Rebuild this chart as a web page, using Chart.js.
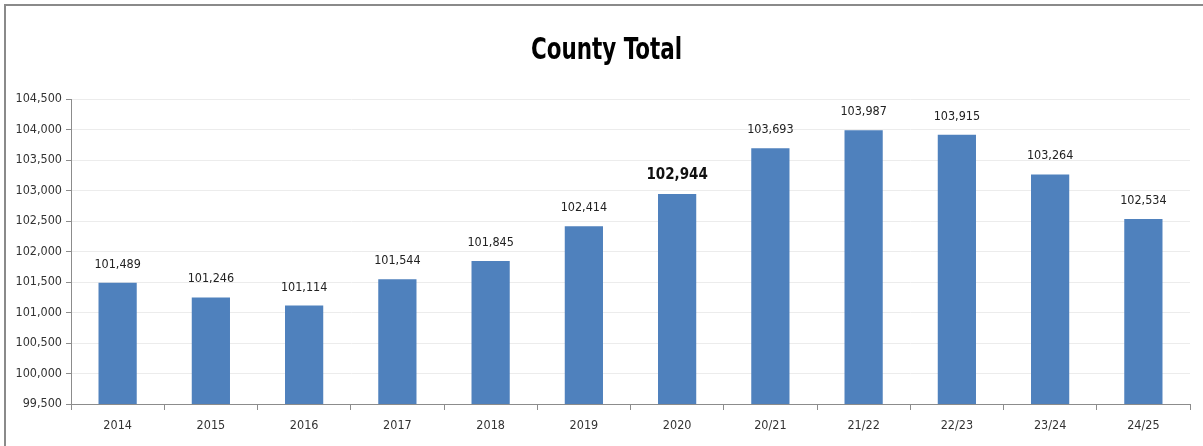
<!DOCTYPE html>
<html>
<head>
<meta charset="utf-8">
<script src="https://cdn.jsdelivr.net/npm/chart.js@4"></script>
<style>
  html, body { margin: 0; padding: 0; background: #fff; }
  .wrap { position: relative; width: 1203px; height: 446px; overflow: hidden; }
  .frame { position: absolute; left: 4px; top: 4px; width: 1300px; height: 500px;
           border-top: 2px solid #8a8a8a; border-left: 2px solid #8a8a8a; }
  canvas { position: absolute; left: 0; top: 0; }
</style>
</head>
<body>
<div class="wrap">
  <div class="frame"></div>
  <canvas id="county-chart" width="1203" height="446"></canvas>
</div>
<script>
const FONT = '"DejaVu Sans Condensed", "DejaVu Sans", sans-serif';

// chart data
const chartTitle = 'County Total';
const categories = ['2014', '2015', '2016', '2017', '2018', '2019', '2020', '20/21', '21/22', '22/23', '23/24', '24/25'];
const countyTotals = [101489, 101246, 101114, 101544, 101845, 102414, 102944, 103693, 103987, 103915, 103264, 102534];
const highlightCategory = '2020'; // this label is drawn bold in the original
const yMin = 99500;
const yMax = 104500;
const yStep = 500;

function formatNumber(num) {
  return num.toLocaleString('en-US');
}

// title drawn by hand so it can be squeezed to look like the narrow original font
const narrowTitle = {
  id: 'narrowTitle',
  afterDraw(chart) {
    const ctx = chart.ctx;
    ctx.save();
    ctx.font = 'bold 31px ' + FONT;
    ctx.fillStyle = '#000';
    ctx.textAlign = 'center';
    ctx.textBaseline = 'alphabetic';
    ctx.translate(chart.width / 2 + 5, 59);
    ctx.scale(0.77, 1);
    ctx.fillText(chartTitle, 0, 0);
    ctx.restore();
  }
};

// draw value labels above each bar
const valueLabels = {
  id: 'valueLabels',
  afterDatasetsDraw(chart) {
    const ctx = chart.ctx;
    const meta = chart.getDatasetMeta(0);
    ctx.save();
    ctx.textAlign = 'center';
    ctx.textBaseline = 'alphabetic';
    meta.data.forEach((bar, i) => {
      const isBold = categories[i] === highlightCategory;
      ctx.font = isBold ? 'bold 15px ' + FONT : '12.5px ' + FONT;
      ctx.fillStyle = isBold ? '#111' : '#222';
      ctx.fillText(formatNumber(countyTotals[i]), bar.x, bar.y - 15);
    });
    ctx.restore();
  }
};

const ctx = document.getElementById('county-chart').getContext('2d');
const countyChart = new Chart(ctx, {
  type: 'bar',
  data: {
    labels: categories,
    datasets: [{
      label: chartTitle,
      data: countyTotals,
      backgroundColor: '#4f81bd',
      borderWidth: 0,
      barPercentage: 0.41,
      categoryPercentage: 1
    }]
  },
  plugins: [valueLabels, narrowTitle],
  options: {
    responsive: false,
    animation: false,
    layout: { padding: { left: 0, right: 13, top: 99, bottom: 0 } },
    plugins: {
      legend: { display: false },
      tooltip: { enabled: false },
      title: { display: false }
    },
    scales: {
      x: {
        offset: true,
        grid: {
          offset: true,
          drawOnChartArea: false,
          drawTicks: true,
          tickLength: 6,
          tickColor: '#8c8c8c'
        },
        border: { color: '#8c8c8c', width: 1 },
        ticks: {
          color: '#333',
          font: { family: FONT, size: 12.5 },
          padding: 8,
          maxRotation: 0
        },
        afterFit(scale) { scale.height = 42; }
      },
      y: {
        min: yMin,
        max: yMax,
        grid: {
          color: '#ececec',
          tickColor: '#8c8c8c',
          tickLength: 5
        },
        border: { color: '#8c8c8c', width: 1 },
        ticks: {
          stepSize: yStep,
          color: '#333',
          font: { family: FONT, size: 12.5 },
          padding: 4,
          callback: (value) => formatNumber(value)
        },
        afterFit(scale) { scale.width = 71; }
      }
    }
  }
});
</script>
</body>
</html>
